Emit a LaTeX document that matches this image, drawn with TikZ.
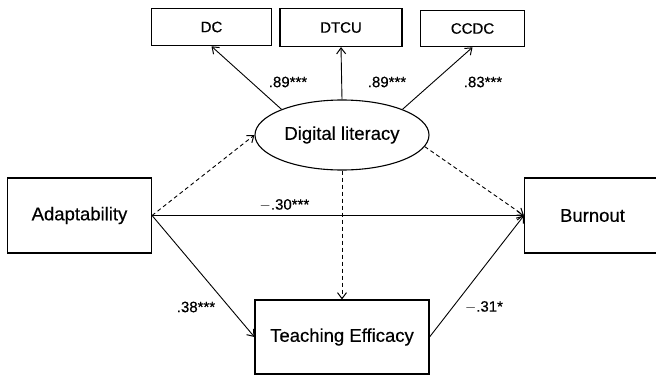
\documentclass[tikz,border=0pt]{standalone}
\usepackage{fontspec}
\setmainfont[FakeBold=0.4]{Liberation Sans}
\usetikzlibrary{shapes.geometric, arrows.meta}
\tikzset{
  box/.style={draw, line width=1.1pt, inner sep=0pt, font=\fontsize{18.5}{20}\selectfont},
  smallbox/.style={draw, line width=1.1pt, inner sep=0pt, font=\fontsize{15}{17}\selectfont},
  coef/.style={inner sep=0pt, font=\fontsize{15}{17}\selectfont},
  path/.style={-{Straight Barb[length=6pt, width=9pt, line width=1pt]}, line width=0.9pt},
  dpath/.style={path, dash pattern=on 4pt off 3pt}
}

\begin{document}
\begin{tikzpicture}[x=1pt, y=-1pt]
\useasboundingbox (0,0) rectangle (656,375);
% indicators
\node[smallbox, minimum width=120pt, minimum height=37.5pt] (dc) at (211.5,27) {DC};
\node[smallbox, minimum width=122pt, minimum height=38pt] (dtcu) at (341,27.5) {DTCU};
\node[smallbox, minimum width=104pt, minimum height=36.5pt] (ccdc) at (472.5,28.5) {CCDC};
% latent variable
\node[ellipse, box, minimum width=174pt, minimum height=70pt] (dl) at (342,135) {Digital literacy};
% observed variables
\node[box, minimum width=144pt, minimum height=75pt] (adapt) at (79.5,215.5) {Adaptability};
\node[box, minimum width=136pt, minimum height=75pt] (burn) at (592.5,215.5) {Burnout};
\node[box, minimum width=174pt, minimum height=74pt] (te) at (342,337) {Teaching Efficacy};

\draw[path] (dl.157) -- (dc.south);
\draw[path] (dl.north) -- (dtcu.south);
\draw[path] (dl.23) -- (ccdc.south);
\draw[dpath] (adapt.east) -- (dl.west);
\draw[dpath] (dl.352) -- (burn.west);
\draw[dpath] (dl.south) -- (te.north);
\draw[path] (adapt.east) -- (burn.west);
\draw[path] (adapt.east) -- (te.west);
\draw[path] (te.east) -- (burn.west);

% coefficients
\node[coef] (l1) at (288,82) {.89***};
\node[coef] (l2) at (387,82) {.89***};
\node[coef] (l3) at (483,82) {.83***};
\node[coef] (l4) at (284.5,205) {$-$.30***};
\node[coef] (l5) at (196,307) {.38***};
\node[coef] (l6) at (484,307) {$-$.31*};
\end{tikzpicture}
\end{document}
